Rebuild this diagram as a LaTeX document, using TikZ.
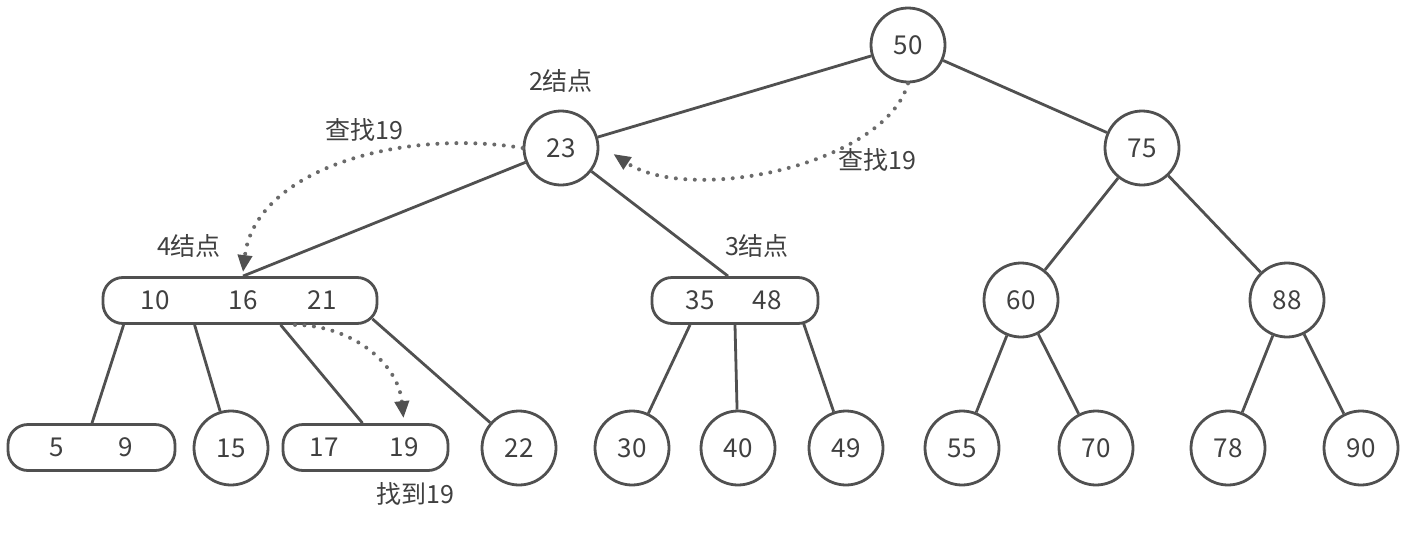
\documentclass[tikz,border=0pt]{standalone}
\usepackage{fontspec}
\setmainfont{Noto Sans CJK SC}
\usetikzlibrary{arrows.meta,calc}
\definecolor{ln}{HTML}{505050}
\definecolor{tx}{HTML}{404040}
\definecolor{dt}{HTML}{6A6A6A}
\begin{document}
\begin{tikzpicture}[x=1pt,y=-1pt,
  font=\fontsize{25}{29}\selectfont, text=tx,
  cnode/.style={circle,draw=ln,line width=2.8pt,minimum size=74pt,inner sep=0pt,font=\fontsize{26}{30}\selectfont},
  bnode/.style={rectangle,rounded corners=20pt,draw=ln,line width=2.8pt,minimum height=46pt,inner sep=0pt},
  val/.style={inner sep=0pt,font=\fontsize{26}{30}\selectfont},
  edge/.style={draw=ln,line width=2.8pt},
  search/.style={draw=dt,line width=4pt,line cap=round,dash pattern=on 0pt off 9.5pt,
    -{Triangle[length=17pt,width=14pt,fill=ln,color=ln]}},
  lbl/.style={inner sep=0pt}]
\useasboundingbox (0,0) rectangle (1407,533);
\fill[white] (0,0) rectangle (1407,533);
% circles
\node[cnode] (n50) at (908,45) {50};
\node[cnode] (n23) at (561,148) {23};
\node[cnode] (n75) at (1142,148) {75};
\node[cnode] (n60) at (1021,300) {60};
\node[cnode] (n88) at (1287,300) {88};
\node[cnode] (n15) at (231,448) {15};
\node[cnode] (n22) at (519,448) {22};
\node[cnode] (n30) at (632,448) {30};
\node[cnode] (n40) at (738,448) {40};
\node[cnode] (n49) at (846,448) {49};
\node[cnode] (n55) at (962,448) {55};
\node[cnode] (n70) at (1096,448) {70};
\node[cnode] (n78) at (1228,448) {78};
\node[cnode] (n90) at (1361,448) {90};
% boxes
\node[bnode,minimum width=274pt] (b4) at (240,300.5) {};
\node[val] (t10) at (155,300.5) {10};
\node[val] (t16) at (243,300.5) {16};
\node[val] (t21) at (322,300.5) {21};
\node[bnode,minimum width=166pt] (b3) at (735,300.5) {};
\node[val] (t35) at (700,300.5) {35};
\node[val] (t48) at (767,300.5) {48};
\node[bnode,minimum width=167pt] (b59) at (91.5,447.5) {};
\node[val] (t5) at (57,447.5) {5};
\node[val] (t9) at (126,447.5) {9};
\node[bnode,minimum width=165pt] (b17) at (365.5,447.5) {};
\node[val] (t17) at (324,447.5) {17};
\node[val] (t19) at (404,447.5) {19};
% labels
\node[lbl] (l2) at (561,81) {2结点};
\node[lbl] (lq1) at (364,130) {查找19};
\node[lbl] (lq2) at (877,160) {查找19};
\node[lbl] (l4) at (189,246) {4结点};
\node[lbl] (l3) at (757,246) {3结点};
\node[lbl] (lf) at (415,494) {找到19};
% edges
\draw[edge] (n50) -- (n23);
\draw[edge] (n50) -- (n75);
\draw[edge] (n23) -- ($(b4.north)+(3,0)$);
\draw[edge] (n23) -- ($(b3.north)+(-7,0)$);
\draw[edge] (n75) -- (n60);
\draw[edge] (n75) -- (n88);
\draw[edge] (n60) -- (n55);
\draw[edge] (n60) -- (n70);
\draw[edge] (n88) -- (n78);
\draw[edge] (n88) -- (n90);
\draw[edge] ($(b4.south west)+(22,0)$) -- ($(b59.north)+(0.5,0)$);
\draw[edge] ($(b4.south west)+(93,0)$) -- (n15);
\draw[edge] ($(b4.south west)+(179,0)$) -- ($(b17.north)+(-3,0)$);
\draw[edge] ($(b4.south east)+(-6,-6)$) -- (n22);
\draw[edge] ($(b3.south)+(-45,0)$) -- (n30);
\draw[edge] ($(b3.south)+(0,0)$) -- (n40);
\draw[edge] ($(b3.south east)+(-16,-2)$) -- (n49);
% search paths
\draw[search] (n50.south) .. controls (885,165) and (690,205) .. ($(n23.east)+(14,6)$);
\draw[search] (n23.west) .. controls (400,128) and (255,170) .. ($(b4.north)+(3,-4)$);
\draw[search] ($(b4.south)+(55,0)$) .. controls (350,325) and (398,362) .. ($(b17.north)+(38,-5)$);
\end{tikzpicture}
\end{document}
